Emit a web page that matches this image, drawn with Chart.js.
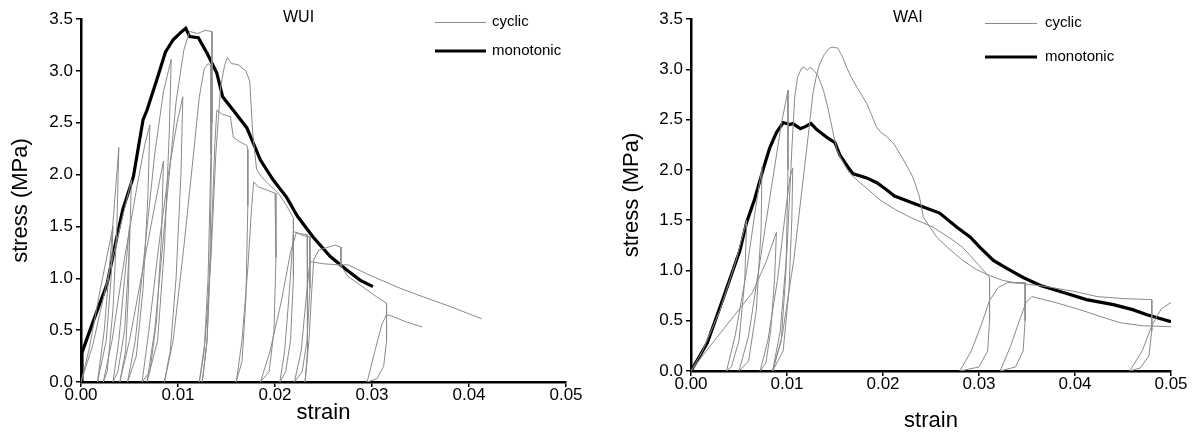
<!DOCTYPE html>
<html><head><meta charset="utf-8">
<script src="https://cdn.jsdelivr.net/npm/chart.js@4.4.1/dist/chart.umd.min.js"></script>
<style>
html,body{margin:0;padding:0;background:#fff;}
#wrap{position:relative;width:1195px;height:436px;overflow:hidden;}
.pane{position:absolute;top:0;height:436px;}
</style></head><body>
<div id="wrap">
<div class="pane" style="left:0;width:597px"><canvas id="c1"></canvas></div>
<div class="pane" style="left:597px;width:598px"><canvas id="c2"></canvas></div>
</div>
<script>
// ---------- data ----------
const strainTicks = [0, 0.01, 0.02, 0.03, 0.04, 0.05];
const stressTicks = [0, 0.5, 1.0, 1.5, 2.0, 2.5, 3.0, 3.5];
const panelTitles = ['WUI', 'WAI'];
const legendLabels = ['cyclic', 'monotonic'];

// WUI monotonic [strain, stress]
const wuiMonotonic = [[0,0],[0.0001,0.28],[0.0002,0.31],[0.0012,0.57],[0.0027,0.95],[0.0037,1.40],[0.0043,1.66],[0.0054,1.98],[0.0064,2.53],[0.0068,2.62],[0.0078,2.91],[0.0087,3.18],[0.0095,3.30],[0.0104,3.38],[0.0108,3.41],[0.0112,3.33],[0.0121,3.32],[0.0130,3.17],[0.0140,2.98],[0.0146,2.75],[0.0157,2.62],[0.0171,2.45],[0.0185,2.14],[0.0198,1.95],[0.0212,1.78],[0.0223,1.60],[0.0239,1.40],[0.0257,1.21],[0.0274,1.08],[0.0288,0.98],[0.0301,0.92]];

// WUI cyclic, specimen 1
const wuiCyclic1 = [[0,0],[0.0008,0.30],[0.0020,0.90],[0.0033,1.50],
[0.0031,1.00],[0.0026,0.40],[0.0017,0],
[0.0024,0.50],[0.0031,1.30],[0.0036,1.90],[0.0039,2.26],
[0.0037,1.50],[0.0033,0.70],[0.0027,0.10],[0.0023,0],
[0.0032,0.40],[0.0045,1.20],[0.0058,1.90],[0.0066,2.30],[0.0071,2.48],
[0.0069,1.80],[0.0064,0.90],[0.0057,0.25],[0.0048,0],
[0.0056,0.40],[0.0066,1.30],[0.0076,2.20],[0.0085,2.80],[0.0093,3.11],
[0.0091,2.40],[0.0086,1.30],[0.0079,0.40],[0.0068,0],
[0.0076,0.50],[0.0087,1.60],[0.0098,2.70],[0.0106,3.20],[0.0112,3.38],[0.0120,3.36],[0.0128,3.39],[0.0135,3.38],
[0.0135,2.50],[0.0133,1.20],[0.0130,0.40],[0.0125,0],
[0.0130,0.40],[0.0134,1.30],[0.0138,2.30],[0.0140,2.62],[0.0146,2.58],[0.0154,2.56],[0.0157,2.36],[0.0163,2.32],[0.0171,2.28],[0.0172,2.24],
[0.0172,1.70],[0.0170,0.80],[0.0166,0.20],[0.0160,0],
[0.0166,0.40],[0.0172,1.10],[0.0176,1.70],[0.0178,1.93],[0.0183,1.88],[0.0192,1.85],[0.0200,1.82],
[0.0201,1.20],[0.0199,0.50],[0.0194,0.10],[0.0185,0],
[0.0195,0.30],[0.0207,0.80],[0.0216,1.25],[0.0222,1.44],[0.0230,1.41],[0.0236,1.40],
[0.0236,0.90],[0.0233,0.40],[0.0228,0.10],[0.0220,0],
[0.0227,0.30],[0.0232,0.80],[0.0236,1.16],[0.0250,1.14],[0.0265,1.13],[0.0275,1.13],
[0.0300,1.02],[0.0330,0.90],[0.0353,0.82],[0.0380,0.73],[0.0413,0.61]];

// WUI cyclic, specimen 2
const wuiCyclic2 = [[0,0],[0.0012,0.35],[0.0030,1.10],[0.0047,1.75],[0.0052,1.95],
[0.0050,1.30],[0.0045,0.50],[0.0038,0.10],[0.0033,0],
[0.0039,0.40],[0.0045,1.00],[0.0050,1.50],
[0.0049,0.90],[0.0046,0.30],[0.0040,0],
[0.0050,0.40],[0.0062,1.00],[0.0075,1.65],[0.0085,2.13],
[0.0083,1.40],[0.0078,0.60],[0.0071,0.10],[0.0063,0],
[0.0070,0.50],[0.0080,1.30],[0.0090,2.00],[0.0099,2.50],[0.0105,2.75],
[0.0103,2.00],[0.0098,1.00],[0.0092,0.30],[0.0086,0],
[0.0095,0.40],[0.0106,1.30],[0.0116,2.20],[0.0122,2.75],[0.0127,3.02],[0.0131,3.07],[0.0134,3.05],
[0.0134,2.20],[0.0131,1.00],[0.0127,0.30],[0.0122,0],
[0.0128,0.40],[0.0134,1.20],[0.0139,2.20],[0.0144,2.85],[0.0148,3.05],[0.0151,3.13],[0.0155,3.07],[0.0162,3.06],[0.0170,3.00],[0.0174,2.90],
[0.0177,2.40],[0.0181,2.05],[0.0186,1.98],[0.0192,1.92],[0.0200,1.85],[0.0205,1.80],[0.0212,1.70],[0.0219,1.58],
[0.0219,1.00],[0.0216,0.40],[0.0211,0.10],[0.0205,0],
[0.0210,0.30],[0.0215,0.90],[0.0219,1.45],[0.0226,1.43],[0.0233,1.42],
[0.0234,0.90],[0.0233,0.30],[0.0231,0],
[0.0235,0.40],[0.0238,0.90],[0.0240,1.18],[0.0245,1.27],[0.0255,1.30],[0.0262,1.32],[0.0268,1.30],
[0.0268,1.12],[0.0275,1.02],[0.0290,0.92],[0.0305,0.82],[0.0315,0.76],
[0.0315,0.40],[0.0312,0.15],[0.0305,0.03],[0.0295,0],
[0.0303,0.30],[0.0310,0.55],[0.0315,0.65],[0.0322,0.63],[0.0335,0.58],[0.0352,0.53]];

// WAI monotonic
const waiMonotonic = [[0,0],[0.0017,0.28],[0.0033,0.71],[0.0051,1.20],[0.0058,1.48],[0.0066,1.70],[0.0075,2.00],[0.0082,2.22],[0.0089,2.37],[0.0096,2.47],[0.0103,2.45],[0.0106,2.46],[0.0114,2.41],[0.0119,2.43],[0.0125,2.46],[0.0131,2.40],[0.0142,2.32],[0.0150,2.27],[0.0155,2.15],[0.0164,2.02],[0.0169,1.96],[0.0183,1.92],[0.0194,1.87],[0.0204,1.80],[0.0212,1.74],[0.0231,1.67],[0.0242,1.63],[0.0259,1.57],[0.0277,1.43],[0.0291,1.33],[0.0301,1.23],[0.0315,1.10],[0.0329,1.02],[0.0346,0.93],[0.0364,0.85],[0.0388,0.78],[0.0412,0.71],[0.0440,0.66],[0.0460,0.61],[0.0475,0.56],[0.0500,0.49]];

// WAI cyclic, specimen 1 (peak ~3.0)
const waiCyclic1 = [[0,0],[0.0020,0.25],[0.0045,0.55],[0.0064,0.78],[0.0078,1.08],[0.0089,1.38],
[0.0087,0.90],[0.0083,0.40],[0.0078,0.08],[0.0072,0],
[0.0080,0.30],[0.0090,0.90],[0.0098,1.55],[0.0103,1.92],[0.0106,2.02],
[0.0105,1.50],[0.0102,0.80],[0.0096,0.20],[0.0085,0],
[0.0093,0.40],[0.0100,1.20],[0.0105,2.20],[0.0108,2.72],[0.0111,2.92],[0.0115,3.01],[0.0118,3.02],[0.0121,2.99],[0.0124,3.02],[0.0128,2.99],[0.0132,2.94],[0.0138,2.79],[0.0143,2.60],[0.0148,2.37],[0.0152,2.20],[0.0158,2.08],[0.0165,1.97],[0.0175,1.88],[0.0185,1.80],[0.0197,1.70],[0.0212,1.61],[0.0228,1.53],[0.0252,1.43],[0.0270,1.32],[0.0283,1.23],[0.0300,1.05],[0.0311,0.93],
[0.0311,0.50],[0.0309,0.20],[0.0300,0.04],[0.0280,0],
[0.0292,0.20],[0.0302,0.45],[0.0311,0.70],[0.0320,0.83],[0.0330,0.88],[0.0345,0.87],[0.0370,0.84],[0.0400,0.79],[0.0423,0.74],[0.0450,0.72],[0.0480,0.71],
[0.0480,0.40],[0.0477,0.15],[0.0468,0.03],[0.0457,0],
[0.0470,0.20],[0.0480,0.45],[0.0490,0.62],[0.0500,0.68]];

// WAI cyclic, specimen 2 (peak ~3.2)
const waiCyclic2 = [[0,0],[0.0012,0.20],[0.0030,0.60],[0.0047,1.10],[0.0058,1.50],
[0.0056,0.90],[0.0050,0.30],[0.0042,0.04],[0.0037,0],
[0.0046,0.35],[0.0058,1.00],[0.0067,1.60],[0.0074,2.03],
[0.0073,1.40],[0.0068,0.60],[0.0060,0.10],[0.0050,0],
[0.0060,0.35],[0.0072,1.10],[0.0085,1.90],[0.0094,2.45],[0.0101,2.79],
[0.0101,2.00],[0.0099,1.00],[0.0094,0.30],[0.0085,0],
[0.0095,0.35],[0.0107,1.10],[0.0118,2.00],[0.0124,2.50],[0.0127,2.76],[0.0131,2.95],[0.0134,3.05],[0.0139,3.15],[0.0144,3.21],[0.0148,3.22],[0.0153,3.21],[0.0158,3.12],[0.0162,3.02],[0.0167,2.92],[0.0173,2.82],[0.0178,2.74],[0.0183,2.66],[0.0188,2.55],[0.0193,2.43],[0.0198,2.37],[0.0204,2.33],[0.0212,2.25],[0.0220,2.12],[0.0226,2.02],[0.0231,1.93],[0.0235,1.82],[0.0238,1.73],[0.0242,1.53],[0.0249,1.43],[0.0256,1.33],[0.0267,1.23],[0.0283,1.10],[0.0297,1.01],[0.0311,0.95],[0.0325,0.90],[0.0336,0.88],[0.0348,0.88],
[0.0348,0.50],[0.0346,0.20],[0.0338,0.04],[0.0322,0],
[0.0333,0.25],[0.0342,0.50],[0.0349,0.68],[0.0355,0.74],[0.0380,0.68],[0.0405,0.61],[0.0427,0.54],[0.0447,0.48],[0.0470,0.45],[0.0500,0.44]];

// ---------- drawing ----------
const FONT = '"Liberation Sans", Arial, Helvetica, sans-serif';
Chart.defaults.font.family = FONT;
Chart.defaults.color = '#000';
const GREY = '#8a8a8a';

const toXY = arr => arr.map(p => ({x: p[0], y: p[1]}));

const annotPlugin = {
  id: 'annot',
  afterDraw(chart, args, o) {
    const ctx = chart.ctx;
    ctx.save();
    ctx.fillStyle = '#000';
    ctx.textBaseline = 'middle';
    ctx.textAlign = 'left';
    ctx.font = '16px ' + FONT;
    ctx.fillText(o.title, o.titleX, o.titleY);
    ctx.font = '15px ' + FONT;
    ctx.strokeStyle = GREY; ctx.lineWidth = 1;
    ctx.beginPath(); ctx.moveTo(o.lx0, o.ly1 + 0.5); ctx.lineTo(o.lx1, o.ly1 + 0.5); ctx.stroke();
    ctx.fillText(o.labels[0], o.tx, o.ly1);
    ctx.strokeStyle = '#000'; ctx.lineWidth = 3;
    ctx.beginPath(); ctx.moveTo(o.lx0, o.ly2); ctx.lineTo(o.lx1, o.ly2); ctx.stroke();
    ctx.fillText(o.labels[1], o.tx, o.ly2);
    ctx.restore();
  }
};

function makeChart(id, cyc1, cyc2, mono, cfg) {
  const datasets = [
    {data: toXY(cyc1), borderColor: GREY, borderWidth: 1},
    {data: toXY(cyc2), borderColor: GREY, borderWidth: 1},
    {data: toXY(mono), borderColor: '#000', borderWidth: 3.2}
  ].map(d => Object.assign(d, {pointRadius: 0, tension: 0, fill: false, showLine: true}));
  return new Chart(document.getElementById(id), {
    type: 'scatter',
    data: {datasets},
    options: {
      responsive: true, maintainAspectRatio: false, animation: false, devicePixelRatio: 1,
      events: [],
      layout: {padding: {left: 0, right: cfg.padRight, top: 19, bottom: 0}},
      plugins: {legend: {display: false}, tooltip: {enabled: false}, annot: cfg.annot},
      scales: {
        x: {
          type: 'linear', min: strainTicks[0], max: strainTicks[strainTicks.length - 1],
          afterBuildTicks: s => { s.ticks = strainTicks.map(v => ({value: v})); },
          afterFit: s => { s.height = cfg.xHeight; },
          ticks: {font: {size: 17, lineHeight: 1}, padding: cfg.xTickPad, color: '#000', maxRotation: 0,
                  callback: v => Number(v).toFixed(2)},
          grid: {drawOnChartArea: false, drawTicks: true, tickLength: 5, color: '#000', lineWidth: 1.5},
          border: {display: true, color: '#000', width: 2.5},
          title: {display: true, text: 'strain', font: {size: 22, lineHeight: 1}, color: '#000', padding: {top: 0, bottom: cfg.xTitlePad}}
        },
        y: {
          type: 'linear', min: stressTicks[0], max: stressTicks[stressTicks.length - 1],
          afterBuildTicks: s => { s.ticks = stressTicks.map(v => ({value: v})); },
          afterFit: s => { s.width = cfg.yWidth; },
          ticks: {font: {size: 17, lineHeight: 1}, padding: 3, color: '#000',
                  callback: v => Number(v).toFixed(1)},
          grid: {drawOnChartArea: false, drawTicks: true, tickLength: 5, color: '#000', lineWidth: 1.5},
          border: {display: true, color: '#000', width: 2.5},
          title: {display: true, text: 'stress (MPa)', font: {size: 22, lineHeight: 1}, color: '#000', padding: {top: cfg.yTitlePad, bottom: 0}}
        }
      }
    },
    plugins: [annotPlugin]
  });
}

makeChart('c1', wuiCyclic1, wuiCyclic2, wuiMonotonic, {
  padRight: 31, xHeight: 54, yWidth: 81, xTickPad: 0, xTitlePad: 12, yTitlePad: 10,
  annot: {title: panelTitles[0], titleX: 283, titleY: 18, labels: legendLabels, lx0: 435, lx1: 486, tx: 492, ly1: 22, ly2: 51}
});
makeChart('c2', waiCyclic1, waiCyclic2, waiMonotonic, {
  padRight: 24, xHeight: 65, yWidth: 94, xTickPad: 0, xTitlePad: 4, yTitlePad: 24,
  annot: {title: panelTitles[1], titleX: 296, titleY: 18, labels: legendLabels, lx0: 388, lx1: 440, tx: 448, ly1: 23, ly2: 57}
});
</script>
</body></html>
